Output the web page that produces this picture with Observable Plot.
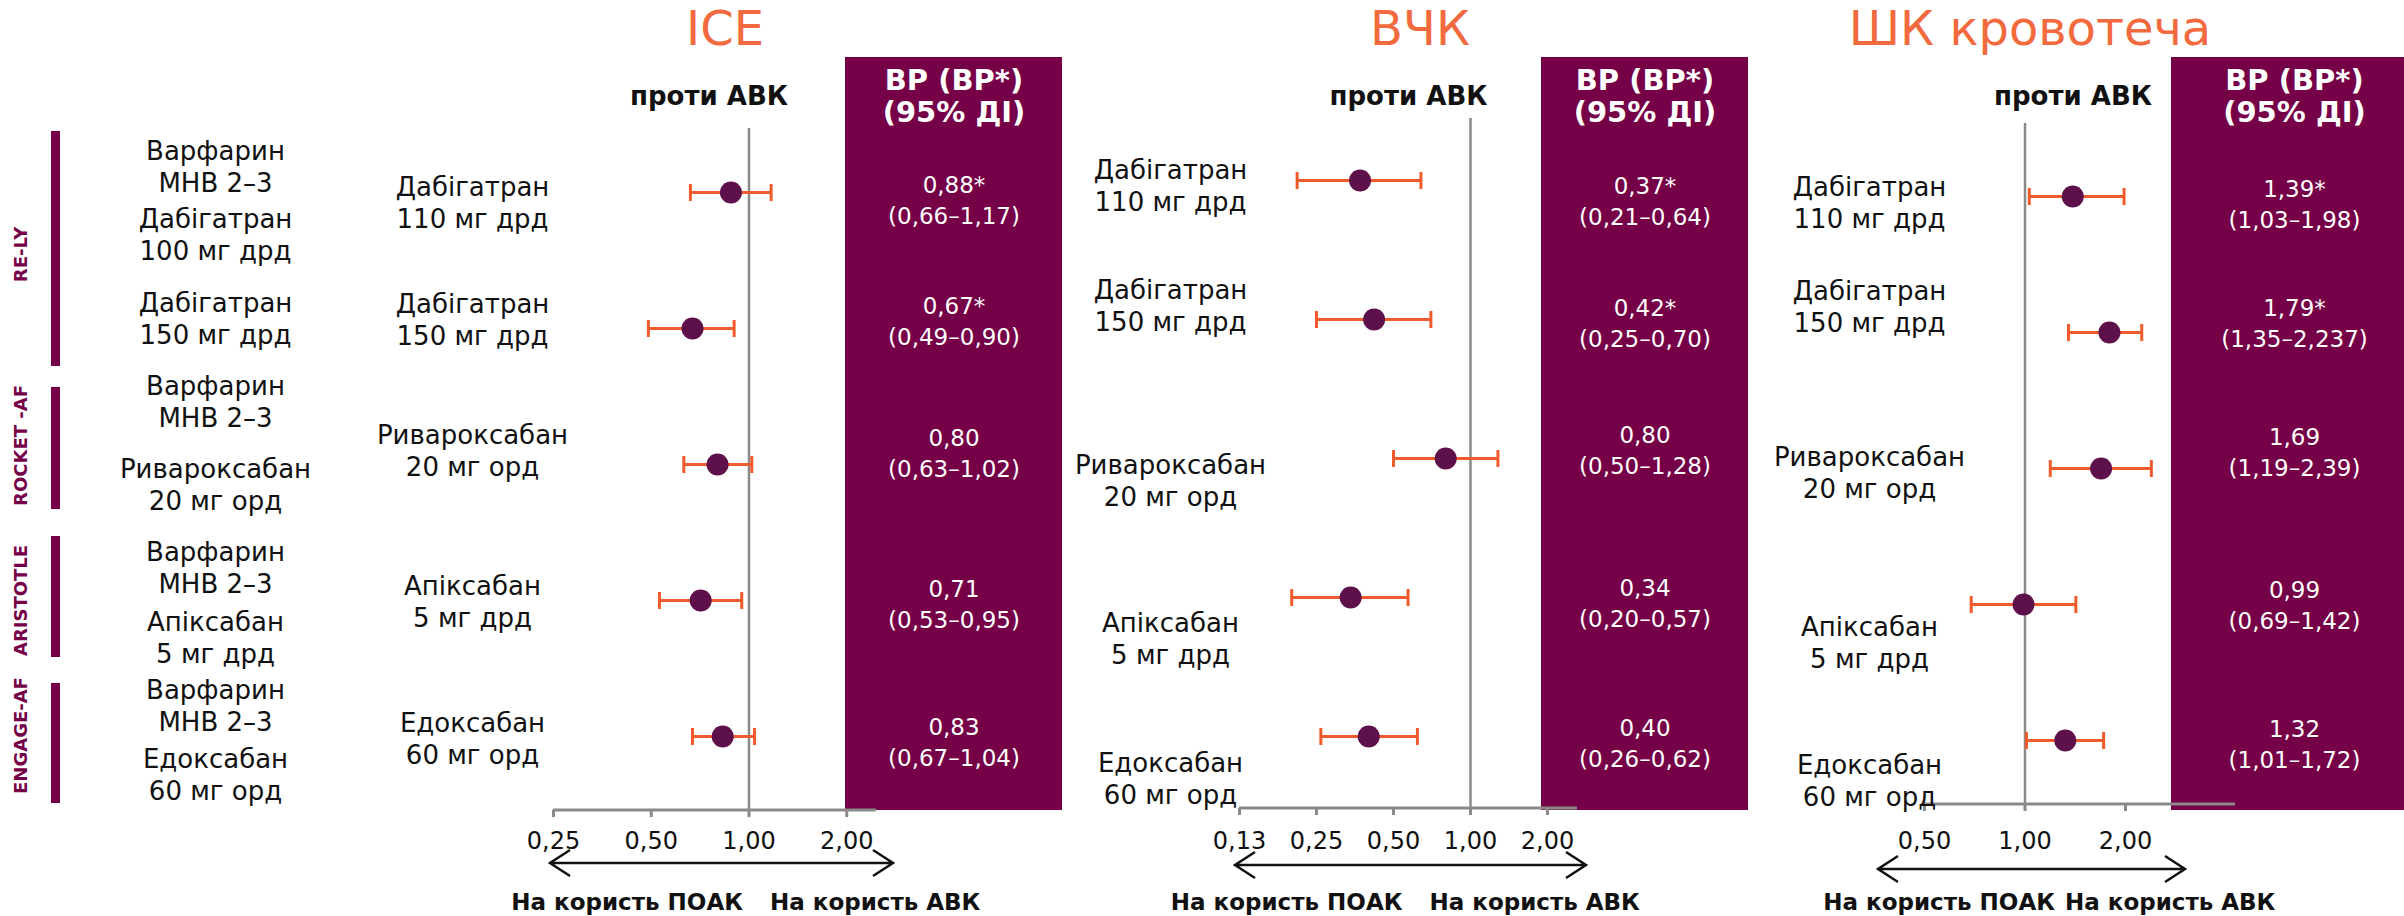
<!DOCTYPE html>
<html><head><meta charset="utf-8">
<script src="https://cdn.jsdelivr.net/npm/d3@7"></script>
<script src="https://cdn.jsdelivr.net/npm/@observablehq/plot@0.6"></script>
<style>
html,body{margin:0;padding:0;background:#fff;}
#root{position:relative;width:2404px;height:916px;overflow:hidden;font-family:"DejaVu Sans",sans-serif;}
#root svg{position:absolute;left:0;top:0;overflow:visible;}
.box{position:absolute;background:#750047;}
.title{position:absolute;top:0px;color:#F26A3D;font-size:48px;line-height:normal;white-space:nowrap;transform:translateX(-50%);}
g[aria-label="boxvals"] text{letter-spacing:2px;}
</style>
</head><body><div id="root"></div>
<script>
// ---------------- data ----------------
const panelTitles = ["ICE", "ВЧК", "ШК кровотеча"];
const trials = ["RE-LY", "ROCKET -AF", "ARISTOTLE", "ENGAGE-AF"];
const comparators = ["Варфарин\nМНВ 2–3", "Дабігатран\n100 мг дрд", "Дабігатран\n150 мг дрд",
  "Варфарин\nМНВ 2–3", "Ривароксабан\n20 мг орд",
  "Варфарин\nМНВ 2–3", "Апіксабан\n5 мг дрд",
  "Варфарин\nМНВ 2–3", "Едоксабан\n60 мг орд"];
const comparatorTrial = [0, 0, 0, 1, 1, 2, 2, 3, 3];
const drugs = ["Дабігатран\n110 мг дрд", "Дабігатран\n150 мг дрд", "Ривароксабан\n20 мг орд", "Апіксабан\n5 мг дрд", "Едоксабан\n60 мг орд"];
const starred = [true, true, false, false, false];

const iceHR = [0.88, 0.67, 0.80, 0.71, 0.83];
const iceLo = [0.66, 0.49, 0.63, 0.53, 0.67];
const iceHi = [1.17, 0.90, 1.02, 0.95, 1.04];

const ichHR = [0.37, 0.42, 0.80, 0.34, 0.40];
const ichLo = [0.21, 0.25, 0.50, 0.20, 0.26];
const ichHi = [0.64, 0.70, 1.28, 0.57, 0.62];

const giHR = [1.39, 1.79, 1.69, 0.99, 1.32];
const giLo = [1.03, 1.35, 1.19, 0.69, 1.01];
const giHi = [1.98, 2.237, 2.39, 1.42, 1.72];

const ticksICE = [0.25, 0.5, 1, 2];
const tickLabelsICE = ["0,25", "0,50", "1,00", "2,00"];
const ticksICH = [0.125, 0.25, 0.5, 1, 2];
const tickLabelsICH = ["0,13", "0,25", "0,50", "1,00", "2,00"];
const ticksGI = [0.5, 1, 2];
const tickLabelsGI = ["0,50", "1,00", "2,00"];

const headerVs = "проти АВК";
const headerBox = "ВР (ВР*)\n(95% ДІ)";
const favourNoac = "На користь ПОАК";
const favourVka = "На користь АВК";

// ---------------- style / layout ----------------
const PURPLE = "#750047", ORANGE = "#F15A2B", DOT = "#5D1049", GRAY = "#8a8a8a", INK = "#111";
const W = 2404, H = 916;

const LEFT = {barX: 55, entryX: 215, yRange: [165, 773], trialDx: -34,
  trialDy: [89, 52, 55, 38],
  barIn: [[-34, -49], [-6, -40], [-9, -36], [-14, -30]],
  entryDy: [0, -8, 0, 7, 14, 21, 15, 7, 0]};

const panels = [
  {hr: iceHR, lo: iceLo, hi: iceHi, ticks: ticksICE, tickLabels: tickLabelsICE, domain: [0.25, 2.47],
   left: 553, right: 876, top: 128, bottom: 810, yRange: [190, 737], tickPad: 14,
   labelDx: -81, labelDy: [9, -10, -14.5, 0, 1], boxDx: 77.5, boxDy: [6, -9, -12.5, 2, 4], headDy: -33,
   vsDx: -40, vsDy: -31.5, favDy: 92.5, poakDx: -6, vkaDx: 21, arrow: [-3, 17], arrowDy: 53,
   box: [845, 1062], titleX: 725},
  {hr: ichHR, lo: ichLo, hi: ichHi, ticks: ticksICH, tickLabels: tickLabelsICH, domain: [0.125, 2.62],
   left: 1239, right: 1577, top: 118, bottom: 808, yRange: [179, 736], tickPad: 16,
   labelDx: -69, labelDy: [4, -15, 21.5, 40, 41], boxDx: 67.5, boxDy: [19, 2, -9.5, 4, 5], headDy: -23,
   vsDx: -62, vsDy: -21.5, favDy: 94.5, poakDx: -68, vkaDx: -41, arrow: [-4, 9], arrowDy: 57,
   box: [1541, 1748], titleX: 1420},
  {hr: giHR, lo: giLo, hi: giHi, ticks: ticksGI, tickLabels: tickLabelsGI, domain: [0.5, 4.27],
   left: 1924, right: 2235, top: 123, bottom: 804, yRange: [194, 741], tickPad: 20,
   labelDx: -55, labelDy: [5, -27, 3.5, 37, 39], boxDx: 59, boxDy: [6, -11, -17.5, -1, 2], headDy: -28,
   vsDx: 48, vsDy: -26.5, favDy: 98.5, poakDx: 30, vkaDx: 40, arrow: [-46, -50], arrowDy: 65,
   box: [2171, 2404], titleX: 2030}
];

// vertical cap symbol for the error bars (half-height = r)
const capSymbol = {draw(ctx, size) { const h = Math.sqrt(size / Math.PI); ctx.moveTo(0, -h); ctx.lineTo(0, h); }};

const fmt = v => {
  const r = Math.round(v * 100);
  const s = Math.abs(v * 100 - r) < 1e-6 ? v.toFixed(2) : String(v);
  return s.replace(".", ",");
};

const root = document.getElementById("root");

// boxes and titles (behind plots)
panels.forEach((L, k) => {
  const b = document.createElement("div");
  b.className = "box";
  b.style.left = L.box[0] + "px";
  b.style.width = (L.box[1] - L.box[0]) + "px";
  b.style.top = "57px";
  b.style.height = (810 - 57) + "px";
  root.appendChild(b);
  const t = document.createElement("div");
  t.className = "title";
  t.style.left = L.titleX + "px";
  t.textContent = panelTitles[k];
  root.appendChild(t);
});

// axis baseline and double-headed arrow
function decor(L) {
  return (index, scales, values, dims) => {
    const g = d3.create("svg:g");
    const x0 = dims.marginLeft, x1 = dims.width - dims.marginRight;
    const yb = dims.height - dims.marginBottom;
    g.append("line").attr("x1", x0).attr("x2", x1).attr("y1", yb).attr("y2", yb)
      .attr("stroke", GRAY).attr("stroke-width", 3);
    const a0 = x0 + L.arrow[0], a1 = x1 + L.arrow[1], ay = yb + L.arrowDy;
    g.append("path")
      .attr("d", `M${a0},${ay}H${a1}M${a0 + 20},${ay - 13}L${a0},${ay}L${a0 + 20},${ay + 13}M${a1 - 20},${ay - 13}L${a1},${ay}L${a1 - 20},${ay + 13}`)
      .attr("fill", "none").attr("stroke", INK).attr("stroke-width", 2.5);
    return g.node();
  };
}

// left column
{
  const members = trials.map((t, k) => comparators.map((c, i) => i).filter(i => comparatorTrial[i] === k));
  const svg = Plot.plot({
    width: 340, height: H, margin: 0,
    style: {fontFamily: "DejaVu Sans, sans-serif", background: "transparent"},
    x: {type: "point", domain: ["bar", "entry"], range: [LEFT.barX, LEFT.entryX], padding: 0, axis: null},
    y: {type: "point", domain: d3.range(comparators.length), range: LEFT.yRange, padding: 0, axis: null},
    marks: [
      ...trials.map((t, k) => Plot.ruleX([k], {
        x: () => "bar", y1: () => members[k][0], y2: () => members[k][members[k].length - 1],
        stroke: PURPLE, strokeWidth: 9, insetTop: LEFT.barIn[k][0], insetBottom: LEFT.barIn[k][1]})),
      ...trials.map((t, k) => Plot.text([t], {
        x: () => "bar", y: () => members[k][0], text: d => d, dx: LEFT.trialDx, dy: LEFT.trialDy[k],
        rotate: -90, fill: PURPLE, fontWeight: "bold", fontSize: 18})),
      ...comparators.map((c, i) => Plot.text([i], {
        x: () => "entry", y: d => d, dy: LEFT.entryDy[i], text: d => comparators[d],
        fontSize: 26, lineHeight: 1.23, fill: INK, textAnchor: "middle"}))
    ]
  });
  root.appendChild(svg);
}

// forest panels
panels.forEach((L) => {
  const idx = d3.range(drugs.length);
  const svg = Plot.plot({
    width: W, height: H,
    marginLeft: L.left, marginRight: W - L.right, marginTop: L.top, marginBottom: H - L.bottom,
    style: {fontFamily: "DejaVu Sans, sans-serif", background: "transparent"},
    x: {type: "log", domain: L.domain},
    y: {type: "point", domain: idx, range: L.yRange, padding: 0, axis: null},
    marks: [
      Plot.ruleX([1], {x: d => d, stroke: GRAY, strokeWidth: 2.5}),
      decor(L),
      Plot.axisX({ticks: L.ticks, tickFormat: d => L.tickLabels[L.ticks.indexOf(d)], tickSize: 7,
        tickPadding: L.tickPad, stroke: GRAY, strokeWidth: 3, color: INK, fontSize: 24, label: null}),
      Plot.ruleY(idx, {y: i => i, x1: i => L.lo[i], x2: i => L.hi[i], stroke: ORANGE, strokeWidth: 3}),
      Plot.dot(idx, {x: i => L.lo[i], y: i => i, symbol: capSymbol, r: 8.5, stroke: ORANGE, strokeWidth: 3, fill: "none"}),
      Plot.dot(idx, {x: i => L.hi[i], y: i => i, symbol: capSymbol, r: 8.5, stroke: ORANGE, strokeWidth: 3, fill: "none"}),
      Plot.dot(idx, {x: i => L.hr[i], y: i => i, r: 11, fill: DOT, stroke: "none"}),
      ...idx.map(i => Plot.text([i], {y: d => d, text: d => drugs[d], frameAnchor: "left",
        dx: L.labelDx, dy: L.labelDy[i], fontSize: 26, lineHeight: 1.23, fill: INK,
        textAnchor: "middle", lineAnchor: "middle"})),
      ...idx.map(i => Plot.text([i], {y: d => d,
        text: d => fmt(L.hr[d]) + (starred[d] ? "*" : "") + "\n(" + fmt(L.lo[d]) + "–" + fmt(L.hi[d]) + ")",
        frameAnchor: "right", dx: L.boxDx, dy: L.boxDy[i], fontSize: 23, lineHeight: 1.35,
        fill: "white", textAnchor: "middle", lineAnchor: "middle", ariaLabel: "boxvals"})),
      Plot.text([headerBox], {text: d => d, frameAnchor: "top-right", dx: L.boxDx, dy: L.headDy,
        fontSize: 29, fontWeight: "bold", fill: "white", lineHeight: 1.12, textAnchor: "middle", lineAnchor: "middle"}),
      Plot.text([headerVs], {x: () => 1, text: d => d, frameAnchor: "top", dx: L.vsDx, dy: L.vsDy,
        fontSize: 26, fontWeight: "bold", fill: INK, textAnchor: "middle", lineAnchor: "middle"}),
      Plot.text([favourNoac], {x: () => 1, text: d => d, frameAnchor: "bottom", dx: L.poakDx, dy: L.favDy,
        fontSize: 23, fontWeight: "bold", fill: INK, textAnchor: "end", lineAnchor: "middle"}),
      Plot.text([favourVka], {x: () => 1, text: d => d, frameAnchor: "bottom", dx: L.vkaDx, dy: L.favDy,
        fontSize: 23, fontWeight: "bold", fill: INK, textAnchor: "start", lineAnchor: "middle"})
    ]
  });
  root.appendChild(svg);
});
</script></body></html>
